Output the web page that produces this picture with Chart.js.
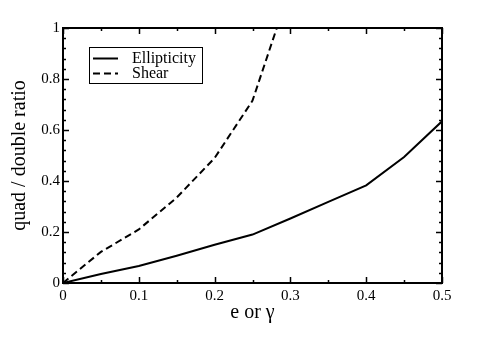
<!DOCTYPE html>
<html><head><meta charset="utf-8">
<script src="https://cdn.jsdelivr.net/npm/chart.js@4.4.0/dist/chart.umd.min.js"></script>
<style>html,body{margin:0;padding:0;background:#fff;}#wrap{width:485px;height:346px;}</style>
</head><body><div id="wrap"><canvas id="c" width="485" height="346"></canvas></div>
<script>
const xValues = [0, 0.05, 0.1, 0.15, 0.2, 0.25, 0.3, 0.35, 0.4, 0.45, 0.5];
const ellipticity = [0, 0.035, 0.067, 0.107, 0.15, 0.19, 0.253, 0.318, 0.383, 0.494, 0.634];
const shearX = [0, 0.05, 0.1, 0.15, 0.2, 0.25, 0.3];
const shear = [0, 0.122, 0.21, 0.335, 0.49, 0.715, 1.16];
const xTickValues = [0, 0.1, 0.2, 0.3, 0.4, 0.5];
const xTickLabels = ['0', '0.1', '0.2', '0.3', '0.4', '0.5'];
const yTickValues = [0, 0.2, 0.4, 0.6, 0.8, 1];
const yTickLabels = ['0', '0.2', '0.4', '0.6', '0.8', '1'];
const xMinorTicks = [0.05, 0.15, 0.25, 0.35, 0.45];
const yMinorTicks = [0.04, 0.08, 0.12, 0.16, 0.24, 0.28, 0.32, 0.36, 0.44, 0.48, 0.52, 0.56, 0.64, 0.68, 0.72, 0.76, 0.84, 0.88, 0.92, 0.96];
const seriesLabels = ['Ellipticity', 'Shear'];
const xTitle = 'e or \u03b3';
const yTitle = 'quad / double ratio';

const serif = "'Liberation Serif', 'Times New Roman', serif";

const framePlugin = {
  id: 'frame',
  afterDraw(chart) {
    const ctx = chart.ctx;
    const a = chart.chartArea;
    const xs = chart.scales.x, ys = chart.scales.y;
    ctx.save();
    ctx.strokeStyle = '#000';
    ctx.lineWidth = 1.5;
    ctx.beginPath();
    const tick = (vals, len, isX) => {
      vals.forEach(v => {
        if (isX) {
          const p = Math.round(xs.getPixelForValue(v)) + 0.5;
          ctx.moveTo(p, a.bottom); ctx.lineTo(p, a.bottom - len);
          ctx.moveTo(p, a.top); ctx.lineTo(p, a.top + len);
        } else {
          const p = Math.round(ys.getPixelForValue(v)) + 0.5;
          ctx.moveTo(a.left, p); ctx.lineTo(a.left + len, p);
          ctx.moveTo(a.right, p); ctx.lineTo(a.right - len, p);
        }
      });
    };
    tick(xTickValues, 6, true);
    tick(xMinorTicks, 3, true);
    tick(yTickValues, 6, false);
    tick(yMinorTicks, 3, false);
    ctx.stroke();
    ctx.lineWidth = 2;
    ctx.strokeRect(a.left, a.top, a.right - a.left, a.bottom - a.top);
    const bx = 89, by = 47, bw = 113, bh = 36;
    ctx.fillStyle = '#fff';
    ctx.fillRect(bx, by, bw, bh);
    ctx.lineWidth = 1;
    ctx.strokeRect(bx + 0.5, by + 0.5, bw, bh);
    const dsets = chart.data.datasets;
    const rows = [58.5, 73.5];
    dsets.forEach((ds, i) => {
      ctx.beginPath();
      ctx.lineWidth = ds.borderWidth;
      ctx.setLineDash(ds.borderDash || []);
      ctx.moveTo(93, rows[i]); ctx.lineTo(118, rows[i]);
      ctx.stroke();
      ctx.setLineDash([]);
      ctx.fillStyle = '#000';
      ctx.font = "16px " + serif;
      ctx.textBaseline = 'middle';
      ctx.textAlign = 'left';
      ctx.fillText(ds.label, 132, rows[i]);
    });
    ctx.restore();
  }
};

new Chart(document.getElementById('c'), {
  type: 'line',
  data: {
    datasets: [
      {
        label: seriesLabels[0],
        data: xValues.map((x, i) => ({x: x, y: ellipticity[i]})),
        borderColor: '#000', borderWidth: 2, pointRadius: 0, fill: false, tension: 0
      },
      {
        label: seriesLabels[1],
        data: shearX.map((x, i) => ({x: x, y: shear[i]})),
        borderColor: '#000', borderWidth: 2, borderDash: [7, 4], pointRadius: 0, fill: false, tension: 0
      }
    ]
  },
  options: {
    responsive: false,
    animation: false,
    devicePixelRatio: 1,
    layout: {padding: {left: 0, top: 28, right: 43, bottom: 0}},
    plugins: {legend: {display: false}, tooltip: {enabled: false}},
    scales: {
      x: {
        type: 'linear', min: 0, max: 0.5,
        afterFit(s) { s.height = 63; },
        afterBuildTicks(s) { s.ticks = xTickValues.map(v => ({value: v})); },
        grid: {display: false, drawTicks: false},
        border: {display: false},
        ticks: {
          color: '#000', padding: 4, maxRotation: 0, autoSkip: false,
          font: {family: serif, size: 15},
          callback: (v, i) => xTickLabels[i]
        },
        title: {display: true, text: xTitle, color: '#000', font: {family: serif, size: 20}, padding: {top: 0, bottom: 21}}
      },
      y: {
        type: 'linear', min: 0, max: 1,
        afterFit(s) { s.width = 63; },
        afterBuildTicks(s) { s.ticks = yTickValues.map(v => ({value: v})); },
        grid: {display: false, drawTicks: false},
        border: {display: false},
        ticks: {
          color: '#000', padding: 3, autoSkip: false,
          font: {family: serif, size: 15},
          callback: (v, i) => yTickLabels[i]
        },
        title: {display: true, text: yTitle, color: '#000', font: {family: serif, size: 20}, padding: {top: 8, bottom: 0}}
      }
    }
  },
  plugins: [framePlugin]
});
</script>
</body></html>
